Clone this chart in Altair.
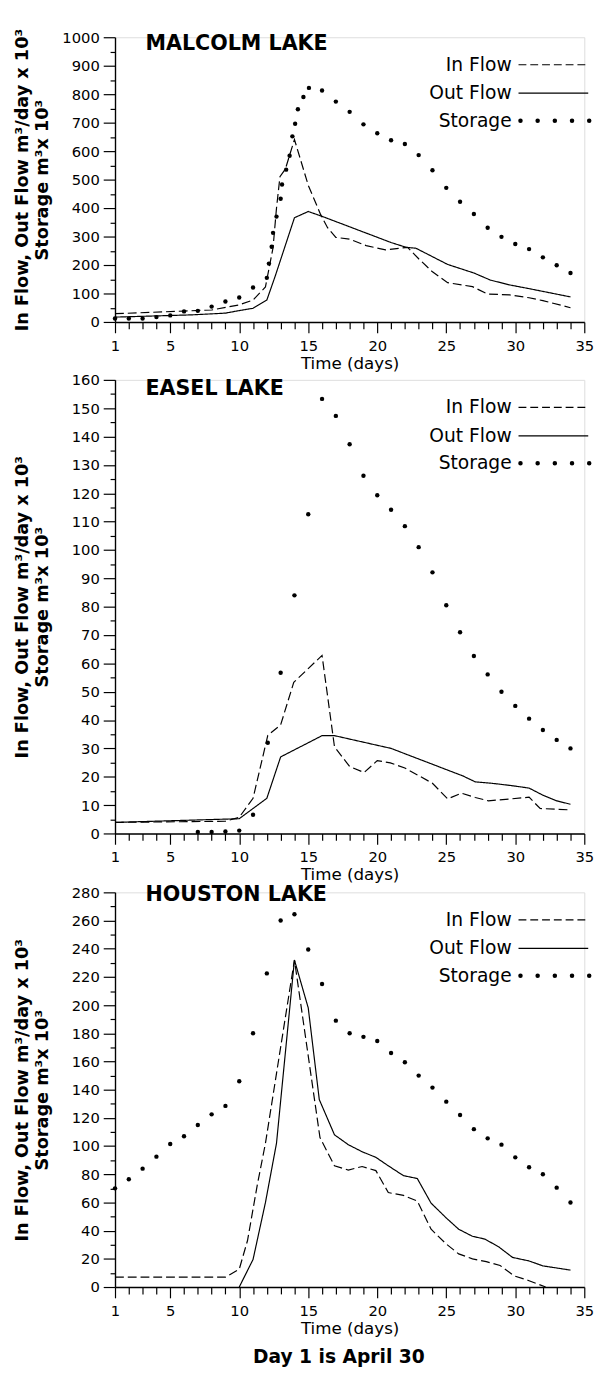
import altair as alt
import pandas as pd

FONT = "DejaVu Sans"
TICK_DAYS = [1, 5, 10, 15, 20, 25, 30, 35]
ALL_DAYS = list(range(1, 36))
Y_TITLE = ["In Flow, Out Flow m\u00b3/day x 10\u00b3", "Storage m\u00b3x 10\u00b3"]
LEGEND = ["In Flow", "Out Flow", "Storage"]
FOOTNOTE = "Day 1 is April 30"

# ---------------- MALCOLM LAKE ----------------
M_IN_D = [1, 8, 10, 11, 11.9, 12.45, 12.7, 12.95, 13.35, 14, 15, 15.9, 16.4, 17, 18, 19.2,
          20.6, 22.2, 23, 24, 25.1, 26.9, 28, 29.6, 31, 32, 34]
M_IN_V = [29, 42, 60, 77, 123, 261, 400, 510, 538, 641, 480, 377, 331, 297, 291, 268,
          253, 262, 222, 176, 138, 124, 98, 95, 85, 75, 50]
M_OUT_D = [1, 6.6, 9, 10, 11, 12, 12.6, 14, 15, 16, 21, 22.1, 22.8, 25.1, 27, 28.2, 29.6, 31, 34]
M_OUT_V = [17, 25, 31, 40, 48, 77, 160, 366, 388, 371, 279, 262, 259, 202, 172, 147, 130, 117, 88]
M_ST_D = [1, 2, 3, 4, 5, 6, 7, 8, 9, 10, 11, 12, 12.15, 12.35, 12.45, 12.7, 13.0, 13.1, 13.4,
          13.65, 13.85, 14.05, 14.25, 14.65, 15.05, 16, 17, 18, 19, 20, 21, 22, 23, 24, 25,
          26, 27, 28, 29, 30, 31, 32, 33, 34]
M_ST_V = [12, 12, 12, 17, 23, 37, 39, 54, 72, 86, 121, 155, 205, 264, 313, 370, 433, 483, 535,
          584, 652, 696, 747, 790, 822, 813, 774, 738, 694, 663, 638, 625, 586, 533, 471,
          422, 379, 331, 299, 274, 256, 227, 199, 172]

# ---------------- EASEL LAKE ----------------
E_IN_D = [1, 9, 10, 11, 12.07, 13, 13.95, 16, 16.9, 18, 19.05, 20, 20.95, 22, 24, 25.1,
          26.1, 27.1, 28.05, 29.7, 31, 31.8, 34]
E_IN_V = [3.9, 4.3, 5.7, 12.4, 34.6, 38.3, 53.3, 62.8, 30.6, 23.6, 21.5, 25.7, 24.9, 23.1,
          17.7, 12.2, 14.2, 12.7, 11.5, 12.2, 12.8, 8.8, 8.3]
E_OUT_D = [1, 10, 12, 13, 16, 16.9, 21, 26.2, 27.1, 28.3, 29.7, 31, 32, 33, 34]
E_OUT_V = [3.9, 5.2, 12.4, 27, 34.5, 34.5, 30, 20.3, 18.2, 17.7, 16.9, 16, 13.5, 11.5, 10.3]
E_ST_D = [7, 8, 9, 10, 11, 12.07, 13, 14, 15, 16, 17, 18, 19, 20, 21, 22, 23, 24, 25, 26,
          27, 28, 29, 30, 31, 32, 33, 34]
E_ST_V = [0.5, 0.5, 0.7, 1, 6.6, 32, 56.7, 84, 112.6, 153.3, 147.3, 137.3, 126.2, 119.3,
          114.2, 108.4, 101, 92.1, 80.5, 71, 62.6, 56.1, 50, 45, 40.5, 36.5, 33, 30]

# ---------------- HOUSTON LAKE ----------------
H_IN_D = [1, 9, 10, 10.6, 11.3, 11.9, 14, 15.85, 16.9, 17.9, 18.9, 19.9, 20.8, 21.9, 22.9,
          23.9, 25, 25.9, 26.9, 27.9, 28.9, 29.9, 31, 32.2]
H_IN_V = [7, 7, 12.6, 33, 72, 102, 232, 106, 86, 83, 85.5, 82.6, 67, 65, 61,
          41, 30.5, 23.5, 20, 18, 15.3, 8, 4.5, 0]
H_OUT_D = [10, 11, 11.9, 12.7, 14, 15, 15.8, 16.9, 17.9, 18.9, 19.9, 20.8, 21.9, 22.9, 23.9,
           25, 25.9, 26.9, 27.8, 28.8, 29.8, 31, 32, 33, 34]
H_OUT_V = [0, 19.5, 60, 102, 232, 198, 133, 108, 101, 96, 92, 86, 79, 77, 59.5,
           49, 41, 36, 34, 28.5, 21, 18.5, 15, 13.5, 12]
H_ST_D = list(range(1, 35))
H_ST_V = [70, 76.5, 84, 92.5, 101.5, 107, 115, 122.5, 128.5, 146, 180, 222.5, 260, 264.5,
          239.5, 215, 189, 180, 177.5, 174.5, 166, 159.5, 150, 141.5, 131.5, 122, 112,
          105.5, 101, 92, 85, 80, 70.5, 60]

W = 478
MAJOR_X_TEST = "indexof([1,5,10,15,20,25,30,35], datum.value) >= 0"


def panel(name, ymax, ystep, height, in_d, in_v, out_d, out_v, st_d, st_v,
          title_pad, name_y, footnote=False):
    lines = pd.DataFrame({
        "day": in_d + out_d,
        "val": in_v + out_v,
        "series": [LEGEND[0]] * len(in_d) + [LEGEND[1]] * len(out_d),
    })
    storage = pd.DataFrame({"day": st_d, "val": st_v})
    minor = ystep // 2
    yvals = list(range(0, ymax + 1, minor))

    x_enc = alt.X(
        "day:Q",
        scale=alt.Scale(domain=[1, 35], nice=False, zero=False),
        axis=alt.Axis(
            values=ALL_DAYS, tickCount=500, format="d",
            labelExpr=MAJOR_X_TEST + " ? datum.label : ''",
            tickSize={"condition": {"test": MAJOR_X_TEST, "value": 11}, "value": 7},
            labelOverlap=False, labelFlush=False, grid=False,
            labelFont=FONT, labelFontSize=15, labelColor="black", labelPadding=6,
            title="Time (days)", titleFont=FONT, titleFontSize=17, titleFontWeight="normal",
            titleColor="black", titlePadding=2,
            domainColor="black", domainWidth=1.4, tickColor="black", tickWidth=1.2,
        ),
    )
    y_enc = alt.Y(
        "val:Q",
        scale=alt.Scale(domain=[0, ymax], nice=False, zero=True),
        axis=alt.Axis(
            values=yvals, tickCount=500, format="d",
            labelExpr=f"datum.value % {ystep} == 0 ? datum.label : ''",
            tickSize={"condition": {"test": f"datum.value % {ystep} == 0", "value": 12},
                      "value": 5},
            labelOverlap=False, labelFlush=False, grid=False,
            labelFont=FONT, labelFontSize=15, labelColor="black", labelPadding=4,
            title=Y_TITLE, titleFont=FONT, titleFontSize=18, titleFontWeight="bold",
            titleColor="black", titlePadding=title_pad, titleLineHeight=20,
            domainColor="black", domainWidth=1.4, tickColor="black", tickWidth=1.2,
        ),
    )

    line_layer = alt.Chart(lines).mark_line(color="black", strokeWidth=1.2).encode(
        x=x_enc, y=y_enc,
        strokeDash=alt.StrokeDash("series:N",
                                  scale=alt.Scale(domain=LEGEND[:2], range=[[9, 4], [1, 0]]),
                                  legend=None),
        detail="series:N",
    )
    dot_layer = alt.Chart(storage).mark_circle(color="black", size=20, opacity=1).encode(
        x="day:Q", y="val:Q"
    )

    one = pd.DataFrame({"k": [0]})
    name_layer = alt.Chart(one).mark_text(
        align="left", baseline="middle", font=FONT, fontSize=21, fontWeight="bold", color="black"
    ).encode(text=alt.value(name), x=alt.value(31), y=alt.value(name_y))

    layers = [line_layer, dot_layer, name_layer]
    legend_y = [28, 57, 85]
    for lab, ly in zip(LEGEND, legend_y):
        layers.append(alt.Chart(one).mark_text(
            align="right", baseline="middle", font=FONT, fontSize=19, color="black"
        ).encode(text=alt.value(lab), x=alt.value(404), y=alt.value(ly)))
    layers.append(alt.Chart(one).mark_rule(color="black", strokeWidth=1.2, strokeDash=[8, 4]).encode(
        x=alt.value(411), x2=alt.value(482), y=alt.value(legend_y[0])))
    layers.append(alt.Chart(one).mark_rule(color="black", strokeWidth=1.2).encode(
        x=alt.value(411), x2=alt.value(482), y=alt.value(legend_y[1])))
    layers.append(alt.Chart(one).mark_rule(color="black", strokeWidth=4.6, strokeCap="round",
                                           strokeDash=[0, 17.5]).encode(
        x=alt.value(413), x2=alt.value(484), y=alt.value(legend_y[2])))
    if footnote:
        layers.append(alt.Chart(one).mark_text(
            align="center", baseline="middle", font=FONT, fontSize=19, fontWeight="bold",
            color="black"
        ).encode(text=alt.value(FOOTNOTE), x=alt.value(228), y=alt.value(height + 71)))

    return alt.layer(*layers).properties(width=W, height=height)


p1 = panel("MALCOLM LAKE", 1000, 100, 290, M_IN_D, M_IN_V, M_OUT_D, M_OUT_V, M_ST_D, M_ST_V,
           title_pad=11, name_y=7)
p2 = panel("EASEL LAKE", 160, 10, 462, E_IN_D, E_IN_V, E_OUT_D, E_OUT_V, E_ST_D, E_ST_V,
           title_pad=20, name_y=9)
p3 = panel("HOUSTON LAKE", 280, 20, 402, H_IN_D, H_IN_V, H_OUT_D, H_OUT_V, H_ST_D, H_ST_V,
           title_pad=20, name_y=3, footnote=True)

chart = alt.vconcat(p1, p2, p3, spacing=0).properties(
    padding={"left": 5, "top": 7, "right": 5, "bottom": 5}
).configure_view(stroke=None).configure(background="white")

chart.save("out.html", embed_options={"renderer": "svg", "actions": False})
